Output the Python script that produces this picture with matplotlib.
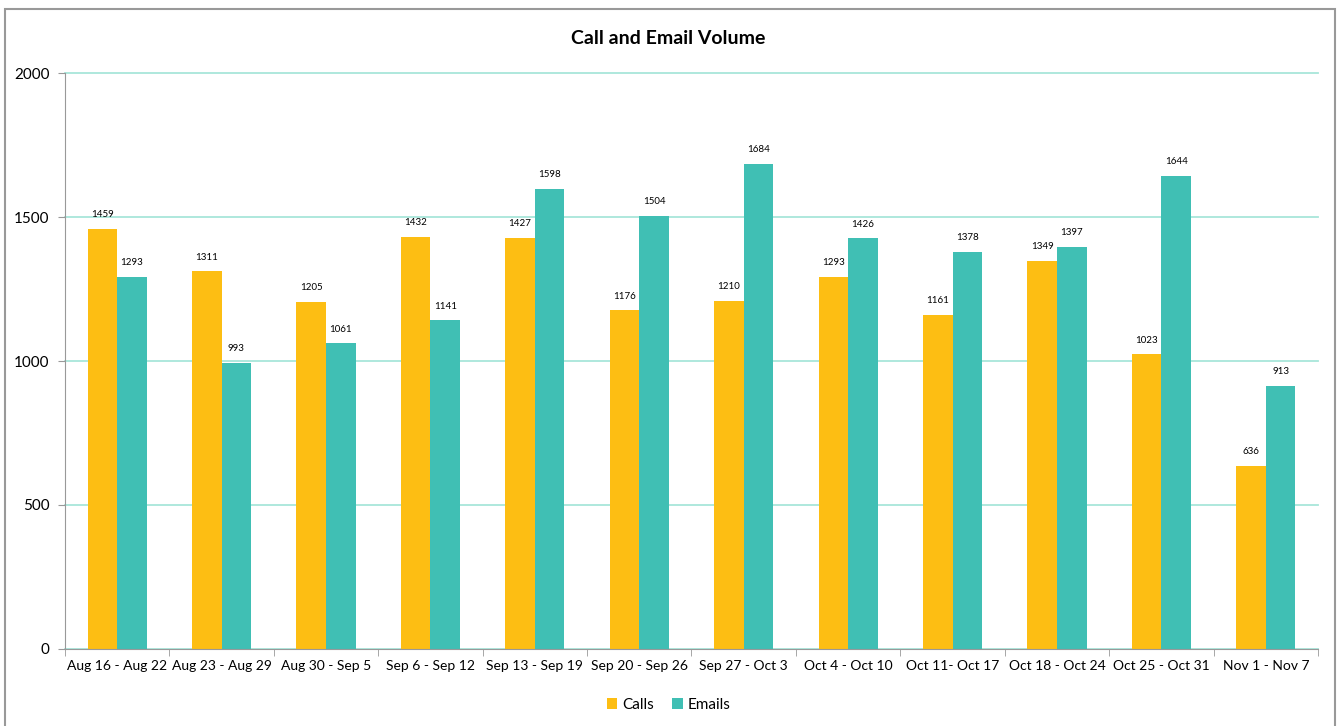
import numpy as np
import matplotlib
matplotlib.use("Agg")
import matplotlib.pyplot as plt
from matplotlib.patches import Rectangle

plt.rcParams['font.family'] = ['Lato', 'DejaVu Sans']

weeks = ['Aug 16 - Aug 22', 'Aug 23 - Aug 29', 'Aug 30 - Sep 5', 'Sep 6 - Sep 12',
         'Sep 13 - Sep 19', 'Sep 20 - Sep 26', 'Sep 27 - Oct 3', 'Oct 4 - Oct 10',
         'Oct 11- Oct 17', 'Oct 18 - Oct 24', 'Oct 25 - Oct 31', 'Nov 1 - Nov 7']
calls = [1459, 1311, 1205, 1432, 1427, 1176, 1210, 1293, 1161, 1349, 1023, 636]
emails = [1293, 993, 1061, 1141, 1598, 1504, 1684, 1426, 1378, 1397, 1644, 913]

fig = plt.figure(figsize=(13.37, 7.26), dpi=100)
ax = fig.add_axes([0.0486, 0.1061, 0.9372, 0.7933])

# outer chart border
fig.patches.append(Rectangle((5 / 1337, -0.05), 1330 / 1337, 1.05 - 9 / 726,
                             transform=fig.transFigure, fill=False,
                             edgecolor='#999999', linewidth=1.5))

x = np.arange(len(weeks))
w = 0.283
b1 = ax.bar(x - w / 2, calls, w, color='#FDBE13', label='Calls')
b2 = ax.bar(x + w / 2, emails, w, color='#40BFB4', label='Emails')
ax.bar_label(b1, padding=7, fontsize=7)
ax.bar_label(b2, padding=7, fontsize=7)

ax.set_ylim(0, 2000)
ax.set_yticks([0, 500, 1000, 1500, 2000])
ax.set_xlim(-0.5, len(weeks) - 0.5)
ax.set_xticks(x)
ax.set_xticklabels(weeks, fontsize=10)
ax.set_xticks(np.arange(len(weeks) + 1) - 0.5, minor=True)
ax.tick_params(axis='x', which='major', length=0, pad=8)
ax.tick_params(axis='x', which='minor', length=5, color='#999999')
ax.tick_params(axis='y', labelsize=11, length=5, color='#999999', pad=6)
ax.yaxis.grid(True, color='#A8E6DA', linewidth=1.3)
for gl in ax.get_ygridlines():
    gl.set_clip_on(False)
ax.set_axisbelow(True)
for s in ['top', 'right']:
    ax.spines[s].set_visible(False)
for s in ['left', 'bottom']:
    ax.spines[s].set_color('#999999')

fig.text(0.5, 1 - 39 / 726, 'Call and Email Volume', ha='center', va='center',
         fontsize=14, fontweight='bold')
fig.legend(loc='center', bbox_to_anchor=(0.5, 1 - 705 / 726), ncol=2, frameon=False,
           fontsize=11, handlelength=0.7, handleheight=0.7, handletextpad=0.3,
           columnspacing=1.2)

fig.savefig('out.png', dpi=100)
